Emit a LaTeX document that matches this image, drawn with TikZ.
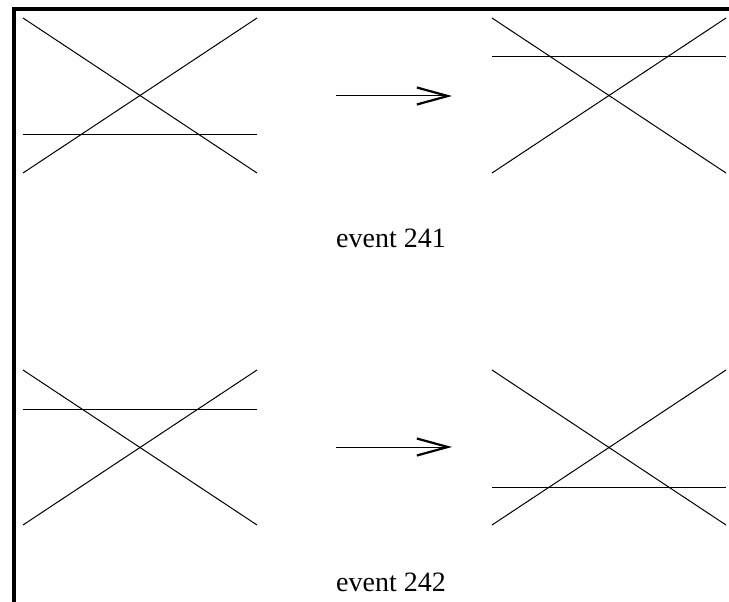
\documentclass[tikz,border=0pt]{standalone}
\usepackage{fontspec}
\setmainfont{Liberation Serif}
\usetikzlibrary{arrows.meta}

% one crossing of three lines: name, left, top, height of the flat line
\newcommand{\crossing}[4]{%
  \begin{scope}[shift={(#2,#3)}]
    \coordinate (#1-nw) at (0,0);
    \coordinate (#1-ne) at (234,0);
    \coordinate (#1-sw) at (0,155);
    \coordinate (#1-se) at (234,155);
    \coordinate (#1-w) at (0,#4);
    \coordinate (#1-e) at (234,#4);
    \draw[strand] (#1-nw) -- (#1-se);
    \draw[strand] (#1-sw) -- (#1-ne);
    \draw[strand] (#1-w) -- (#1-e);
  \end{scope}}

\tikzset{
  strand/.style={line width=1pt},
  move/.style={line width=1pt,-{Straight Barb[length=31pt,width=17pt,line width=2.2pt]}},
  caption/.style={font=\fontsize{28}{34}\selectfont,inner sep=0pt}
}

\begin{document}
\begin{tikzpicture}[x=1pt,y=-1pt]
	\useasboundingbox (0,0) rectangle (729,602);
	% frame along the left and top
	\draw[line width=3.8pt,line join=miter] (13.7,602) -- (13.7,9.3) -- (729,9.3);
	
	% event 241
	\crossing{before241}{23}{18}{116}
	\crossing{after241}{492}{18}{39}
	\coordinate (from241) at (336,96);
	\coordinate (to241) at (452,96);
	\draw[move] (from241) -- (to241);
	\node[caption] (label241) at (391,238) {event 241};
	
	% event 242
	\crossing{before242}{23}{370}{39}
	\crossing{after242}{492}{370}{117}
	\coordinate (from242) at (336,447);
	\coordinate (to242) at (452,447);
	\draw[move] (from242) -- (to242);
	\node[caption] (label242) at (391,582) {event 242};
\end{tikzpicture}
\end{document}
